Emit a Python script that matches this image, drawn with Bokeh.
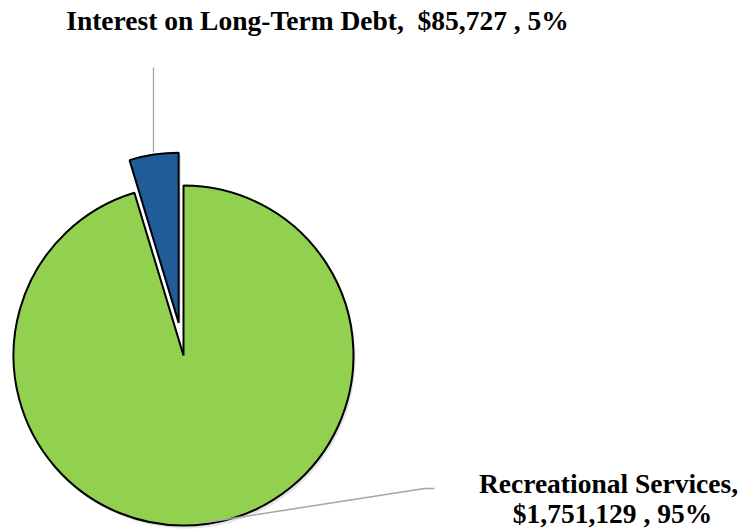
import math
from bokeh.plotting import figure
from bokeh.models import ColumnDataSource
from bokeh.core.properties import value
from bokeh.embed import file_html
from bokeh.resources import INLINE

categories = ["Interest on Long-Term Debt", "Recreational Services"]
amounts = [85727, 1751129]
colors = ["#1F5C99", "#92D050"]

W, H = 753, 531
p = figure(width=W, height=H, x_range=(0, W), y_range=(0, H),
           output_backend="svg", toolbar_location=None, min_border=0,
           match_aspect=False)
p.axis.visible = False
p.grid.visible = False
p.outline_line_color = None
p.background_fill_color = "white"

total = sum(amounts)
cx, cy, r = 183, H - 355, 170
start = math.pi / 2
fr = amounts[0] / total
ang_blue = 2 * math.pi * fr
mid = start + ang_blue / 2
off = 33
bx, by = cx + off * math.cos(mid), cy + off * math.sin(mid)

# faint shadows
p.wedge(x=[cx + 2], y=[cy - 3], radius=r, start_angle=start + ang_blue, end_angle=start + 2 * math.pi,
        fill_color="#cccccc", fill_alpha=0.5, line_color=None)
p.wedge(x=[bx + 2], y=[by - 3], radius=r, start_angle=start, end_angle=start + ang_blue,
        fill_color="#cccccc", fill_alpha=0.5, line_color=None)

src = ColumnDataSource(dict(
    x=[bx, cx], y=[by, cy],
    s=[start, start + ang_blue],
    e=[start + ang_blue, start + 2 * math.pi],
    c=[colors[0], colors[1]],
))
p.wedge(x="x", y="y", radius=r, start_angle="s", end_angle="e", source=src,
        fill_color="c", line_color="black", line_width=2)

# leader lines
p.line(x=[153, 153], y=[H - 67, H - 152], line_color="#A6A6A6", line_width=1.3)
p.line(x=[205, 424, 434], y=[H - 522, H - 488, H - 488], line_color="#A6A6A6", line_width=1.5)

pcts = [round(a / total * 100) for a in amounts]
font = value("Liberation Serif")
p.text(x=[317], y=[H - 20],
       text=[f"{categories[0]},\u00a0 ${amounts[0]:,} , {pcts[0]}%"],
       text_font=font, text_font_style="bold", text_font_size="27.5px",
       text_align="center", text_baseline="middle", text_color="black")
p.text(x=[608, 612], y=[H - 483, H - 513],
       text=[f"{categories[1]},", f"${amounts[1]:,} , {pcts[1]}%"],
       text_font=font, text_font_style="bold", text_font_size="27.5px",
       text_align="center", text_baseline="middle", text_color="black")

open("out.html", "w").write(file_html(p, INLINE))
